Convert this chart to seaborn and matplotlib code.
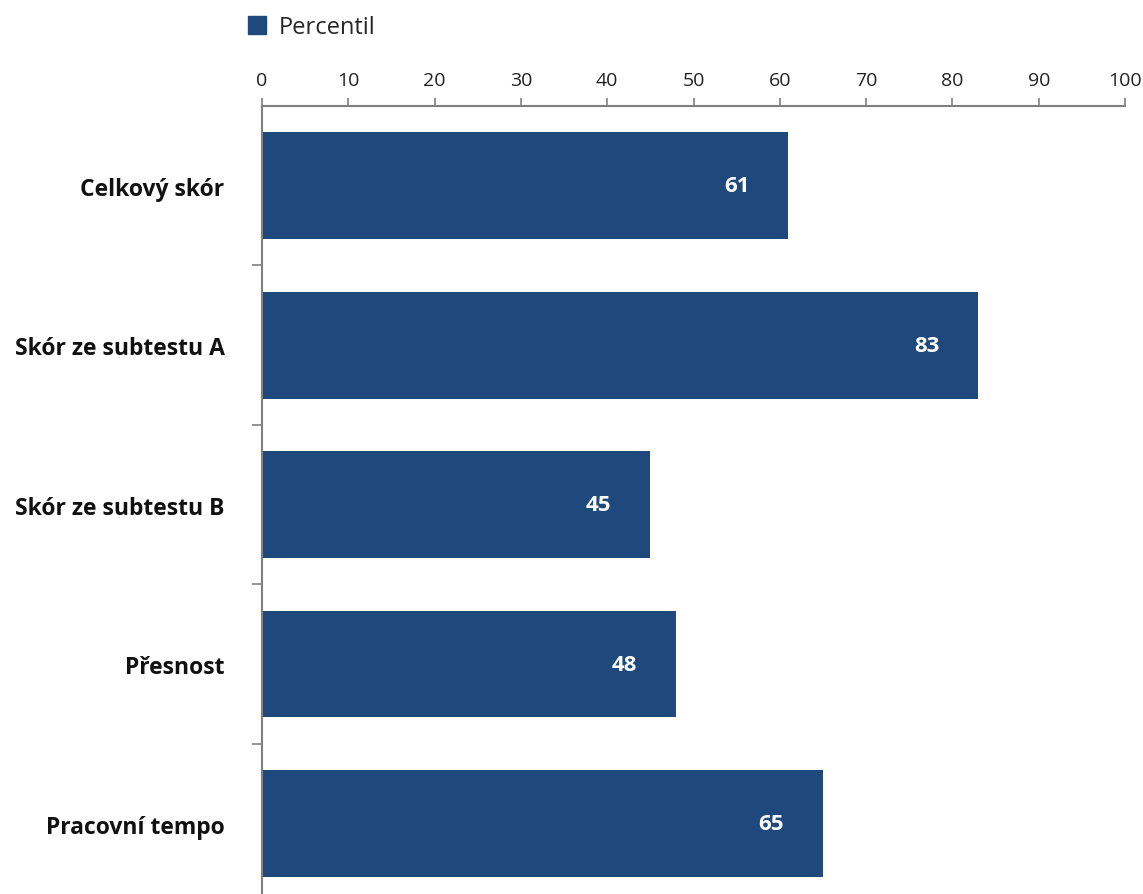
import matplotlib
matplotlib.use("Agg")
import matplotlib.pyplot as plt
import seaborn as sns
import pandas as pd
from matplotlib.patches import Patch

categories = ["Celkový skór", "Skór ze subtestu A", "Skór ze subtestu B", "Přesnost", "Pracovní tempo"]
values = [61, 83, 45, 48, 65]
series_name = "Percentil"
x_ticks = [0, 10, 20, 30, 40, 50, 60, 70, 80, 90, 100]

sns.set_theme(style="white")
plt.rcParams['font.family'] = ['Open Sans', 'DejaVu Sans']

BAR = "#1F497D"
AXC = "#808080"

df = pd.DataFrame({"cat": categories, "val": values})

fig = plt.figure(figsize=(11.43, 8.95), dpi=100)
ax = fig.add_axes([262/1143, -0.005, (1125-262)/1143, 1 - 107/895 + 0.005])

sns.barplot(data=df, x="val", y="cat", color=BAR, saturation=1, width=0.67, ax=ax,
            orient="h", linewidth=0)

ax.set_xlim(0, 100)
ax.set_ylim(4.47, -0.5)
ax.xaxis.tick_top()
ax.set_xticks(x_ticks)
ax.set_xticklabels([str(t) for t in x_ticks], fontsize=14, color="#222222")
ax.tick_params(axis="x", which="major", direction="out", length=6, width=1.2, color=AXC, pad=6, top=True, bottom=False)
ax.set_xlabel("")
ax.set_ylabel("")

ax.set_yticks(range(len(categories)))
ax.set_yticklabels(categories, fontsize=16.5, fontweight="bold", color="#111111")
ax.set_yticks([i + 0.5 for i in range(len(categories) - 1)], minor=True)
ax.tick_params(axis="y", which="major", length=0, pad=27)
ax.tick_params(axis="y", which="minor", length=7.5, width=1.2, color=AXC, left=True)

for s in ["right", "bottom"]:
    ax.spines[s].set_visible(False)
for s in ["top", "left"]:
    ax.spines[s].set_color(AXC)
    ax.spines[s].set_linewidth(1.5)

for i, v in enumerate(values):
    ax.text(v - 6, i, str(v), ha="center", va="center", color="white", fontsize=16, fontweight="bold")

handle = Patch(facecolor=BAR, edgecolor=BAR)
fig.legend([handle], [series_name], loc="upper left", bbox_to_anchor=(227/1143, 1 + 5/895),
           frameon=False, fontsize=17, handlelength=0.75, handleheight=0.75, handletextpad=0.55)

fig.savefig("out.png", dpi=100)
